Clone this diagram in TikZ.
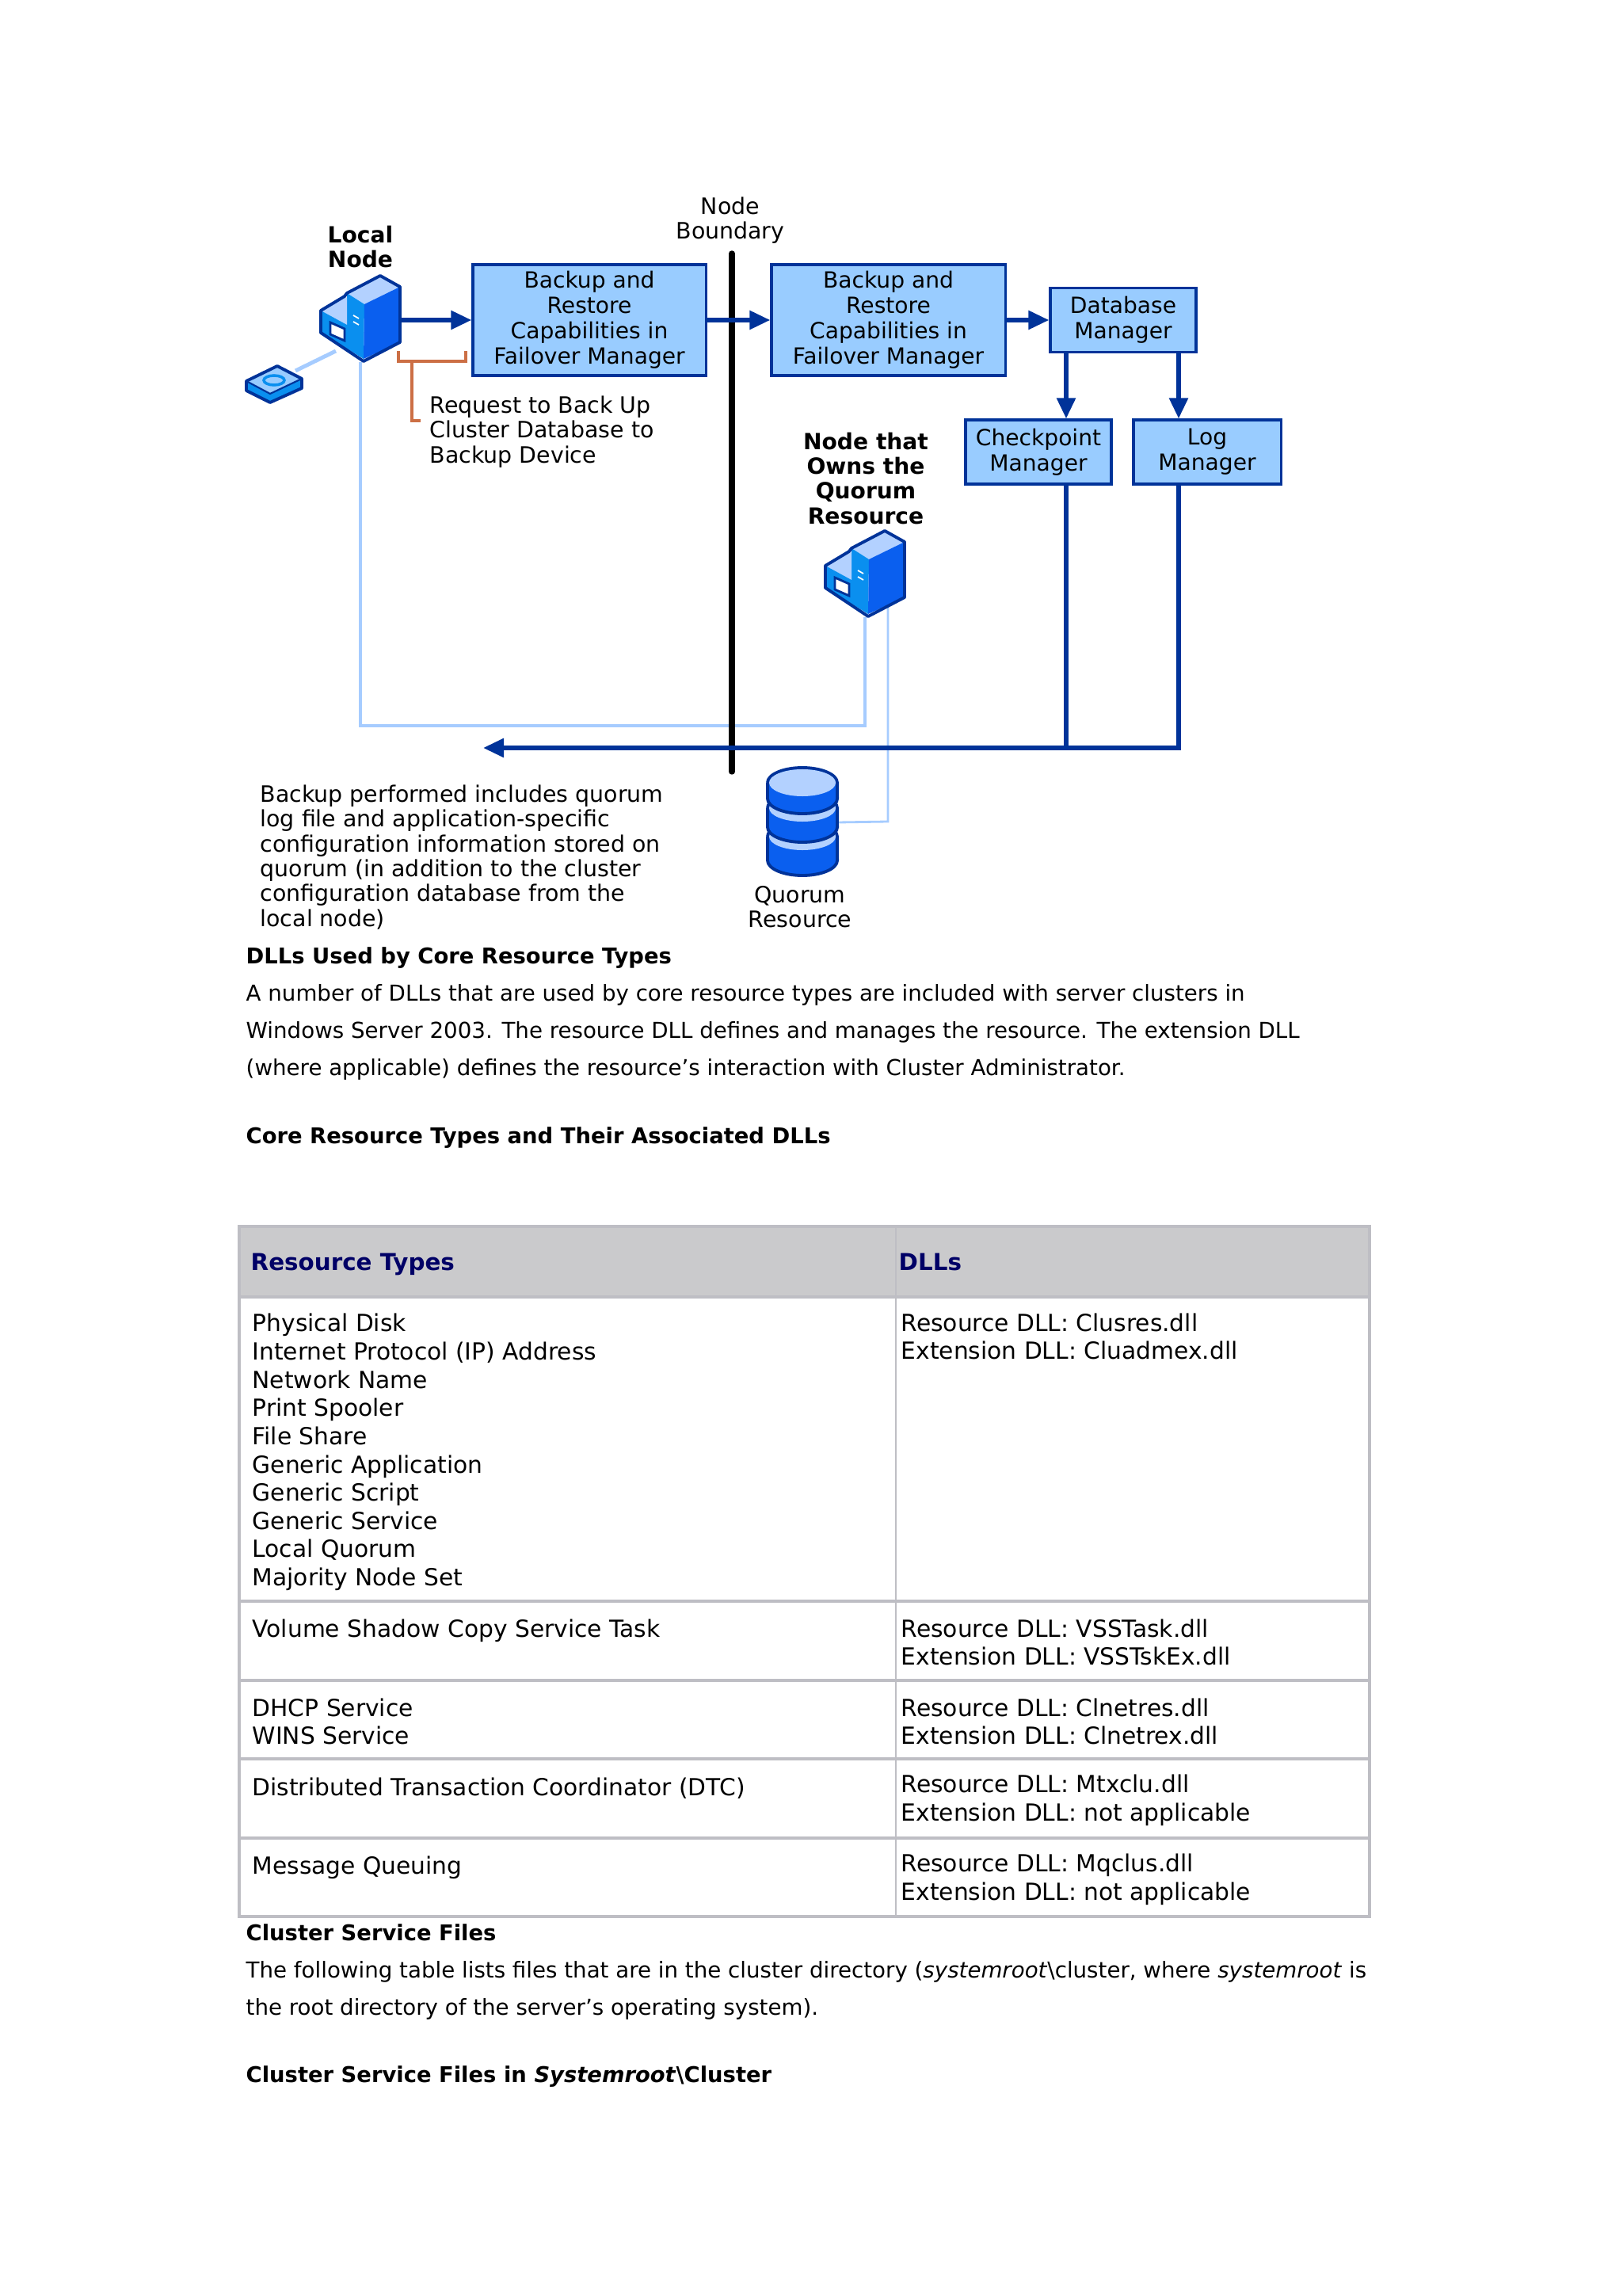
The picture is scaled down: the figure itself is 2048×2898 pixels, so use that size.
\documentclass[tikz,border=0pt]{standalone}
\usepackage{fontspec}
\setmainfont{DejaVu Sans}
\usetikzlibrary{arrows.meta, calc}
\definecolor{linkdark}{HTML}{003399}
\definecolor{linklight}{HTML}{A6CCFF}
\definecolor{boxblue}{HTML}{99CCFF}
\definecolor{facebright}{HTML}{0A5FEF}
\definecolor{facemid}{HTML}{0A8FEF}
\definecolor{facetop}{HTML}{B3D1FF}
\definecolor{bracketorange}{HTML}{CC6F45}
\definecolor{headgrey}{HTML}{CACACC}
\definecolor{rulegrey}{HTML}{BEBEC4}
\definecolor{headnavy}{HTML}{000066}
\tikzset{
  blockbox/.style={draw=linkdark, fill=boxblue, line width=0.9pt, inner sep=0pt, align=center,
    font=\fontsize{8}{9.1}\selectfont},
  sketchlabel/.style={inner sep=0pt, align=center, font=\fontsize{8.08}{8.9}\selectfont},
  sketchnote/.style={sketchlabel, align=left, anchor=west},
  sketchbold/.style={sketchlabel, font=\fontsize{8}{8.82}\selectfont\bfseries},
  bodyline/.style={inner sep=0pt, anchor=base west, font=\fontsize{7.87}{9}\selectfont},
  bodyhead/.style={bodyline, font=\fontsize{7.79}{9}\selectfont\bfseries},
  cellline/.style={inner sep=0pt, anchor=west, align=left, font=\fontsize{8.45}{10.13}\selectfont},
  cellhead/.style={inner sep=0pt, anchor=base west, text=headnavy, font=\fontsize{8.35}{10.13}\selectfont\bfseries},
  blink/.style={draw=linkdark, line width=1.6pt, -{Triangle[length=2.6mm, width=2.3mm]}},
  blinkplain/.style={draw=linkdark, line width=1.6pt},
  llink/.style={draw=linklight, line width=1.4pt},
  serverpic/.pic={
    % tower
    \fill[facetop] (25,-54)--(50,-40)--(5,-18)--(-17,-32)--cycle;
    \fill[facemid] (-17,-32)--(5,-18)--(4,51)--(-17,38)--cycle;
    \fill[facebright] (5,-18)--(50,-40)--(50,30)--(4,51)--cycle;
    % small case
    \fill[facetop] (-50,-10)--(-20,-28)--(-17,-26)--(-17,8)--cycle;
    \fill[facemid] (-50,-10)--(-17,8)--(-17,38)--(-50,18)--cycle;
    \filldraw[fill=white, draw=linkdark, line width=0.8pt] (-38,5)--(-20,13)--(-20,28)--(-38,20)--cycle;
    \draw[white, line width=0.5pt] (-9,-4)--(-2,0) (-9,4)--(-2,8);
    \draw[linkdark, line width=1.1pt, line join=round]
      (25,-54)--(50,-40)--(50,30)--(4,54)--(-50,18)--(-50,-10)--(-20,-28)--(-17,-32)--cycle;
  },
  tapepic/.pic={
    \fill[facemid] (-35,-4)--(-5,12)--(35,-7)--(35,5)--(-5,23)--(-35,8)--cycle;
    \fill[boxblue] (-35,-4)--(4,-23)--(35,-7)--(-5,12)--cycle;
    \draw[facemid, line width=1pt] (0,-5) ellipse [x radius=1.3mm, y radius=0.6mm];
    \draw[linkdark, line width=1.1pt, line join=round]
      (-35,-4)--(4,-23)--(35,-7)--(35,5)--(-5,23)--(-35,8)--cycle;
    \draw[linkdark, line width=0.6pt] (-35,-4)--(-5,12)--(35,-7);
  },
}
\begin{document}
\begin{tikzpicture}[x=0.01cm, y=-0.01cm]
  \useasboundingbox (0,0) rectangle (2048,2898);
  % blocks
  \node[blockbox, minimum width=2.94cm, minimum height=1.40cm] (backupa) at (744,404) {Backup and\\Restore\\Capabilities in\\Failover Manager};
  \node[blockbox, minimum width=2.95cm, minimum height=1.40cm] (backupb) at (1121.5,404) {Backup and\\Restore\\Capabilities in\\Failover Manager};
  \node[blockbox, minimum width=1.84cm, minimum height=0.81cm] (dbbox) at (1418,404) {Database\\Manager};
  \node[blockbox, minimum width=1.84cm, minimum height=0.81cm] (chkbox) at (1311,570.5) {Checkpoint\\Manager};
  \node[blockbox, minimum width=1.86cm, minimum height=0.81cm] (logbox) at (1524,570.5) {Log\\Manager};
  % icons, empty nodes for the links
  \node[minimum width=1cm, minimum height=1.08cm, inner sep=0pt] (localnode) at (455,402) {};
  \node[minimum width=1cm, minimum height=1.08cm, inner sep=0pt] (ownernode) at (1092,724) {};
  \node[minimum width=0.7cm, minimum height=0.46cm, inner sep=0pt] (tapedev) at (346,485) {};
  \node[minimum width=0.88cm, minimum height=1.38cm, inner sep=0pt] (qdisk) at (1013,1038) {};
  % labels
  \node[sketchbold] (locallabel) at (455,312) {Local\\Node};
  \node[sketchlabel] (boundlabel) at (922,278) {Node\\Boundary};
  \node[sketchbold] (ownerlabel) at (1093,604) {Node that\\Owns the\\Quorum\\Resource};
  \node[sketchnote] (requestnote) at (542,545) {Request to Back Up\\Cluster Database to\\Backup Device};
  \node[sketchnote] (backupnote) at (328,1082) {Backup performed includes quorum\\log file and application-specific\\configuration information stored on\\quorum (in addition to the cluster\\configuration database from the\\local node)};
  \node[sketchlabel] (qdisklabel) at (1010,1145) {Quorum\\Resource};
  \coordinate (boundtop) at (924,320);
  \coordinate (boundbot) at (924,974);
  \coordinate (busm) at (1346,944);
  \coordinate (busr) at (1488,944);
  \coordinate (busl) at (610,944);
  \coordinate (backl) at (455,916);
  \coordinate (backr) at (1092,916);
  \coordinate (diskup) at (1121,1037);
  % light links
  \draw[llink] ([xshift=-3.1mm, yshift=-4.1mm]localnode.center)--([xshift=2.7mm, yshift=1.7mm]tapedev.center);
  \draw[llink] (localnode.south)--(backl)--(backr)--(ownernode.south);
  \draw[llink, line width=0.8pt] (qdisk.east)--(diskup)--([yshift=1.6mm]diskup |- ownernode.south);
  % boundary
  \draw[line width=2.1pt, line cap=round] (boundtop)--(boundbot);
  % dark links
  \draw[blink] (localnode.east |- backupa.west)--(backupa.west);
  \draw[blink] (backupa.east)--(backupb.west);
  \draw[blink] (backupb.east)--(dbbox.west);
  \draw[blink] (dbbox.south -| busm)--(chkbox.north -| busm);
  \draw[blink] (dbbox.south -| busr)--(logbox.north -| busr);
  \draw[blinkplain] (chkbox.south -| busm)--(busm);
  \draw[blink] (logbox.south -| busr)--(busr)--(busl);
  % request bracket
  \draw[bracketorange, line width=0.9pt] (503,443)--(503,456)--(588,456)--(588,443) (520,456)--(520,531)--(531,531);
  % icons
  \pic at (localnode.center) {serverpic};
  \pic at (ownernode.center) {serverpic};
  \pic at (tapedev.center) {tapepic};
  % disk stack
  \begin{scope}[shift={(qdisk.center)}]
    \foreach \yt/\yb in {18/48, -18/6, -50/-30}{
      \filldraw[fill=facebright, draw=linkdark, line width=1.1pt]
        (-44,\yt)--(-44,\yb) arc[start angle=180, end angle=360, x radius=4.4mm, y radius=1.9mm]
        --(44,\yt) arc[start angle=0, end angle=180, x radius=4.4mm, y radius=1.9mm];
      \fill[facetop] (-42,\yt) arc[start angle=180, end angle=360, x radius=4.2mm, y radius=1.7mm]
        arc[start angle=0, end angle=180, x radius=4.2mm, y radius=1.7mm];
    }
  \end{scope}
  % page text
  \node[bodyhead] (headdll) at (310,1216) {DLLs Used by Core Resource Types};
  \node[bodyline] (introa) at (310,1263) {A number of DLLs that are used by core resource types are included with server clusters in};
  \node[bodyline] (introb) at (310,1310) {Windows Server 2003. The resource DLL defines and manages the resource. The extension DLL};
  \node[bodyline] (introc) at (310,1357) {(where applicable) defines the resource’s interaction with Cluster Administrator.};
  \node[bodyhead] (headcore) at (310,1443) {Core Resource Types and Their Associated DLLs};
  % table
  \fill[headgrey] (302,1548) rectangle (1729,1637);
  \draw[rulegrey, line width=0.9pt] (302,1548) rectangle (1729,2419);
  \foreach \ry in {1637,2021,2121,2220,2320}{
    \draw[rulegrey, line width=0.9pt] (302,\ry)--(1729,\ry);
  }
  \draw[rulegrey, line width=0.6pt] (1131,1548)--(1131,2419);
  \node[cellhead] (headtypes) at (316,1603) {Resource Types};
  \node[cellhead] (headdlls) at (1134,1603) {DLLs};
  \node[cellline] (typesa) at (318,1833) {Physical Disk\\Internet Protocol (IP) Address\\Network Name\\Print Spooler\\File Share\\Generic Application\\Generic Script\\Generic Service\\Local Quorum\\Majority Node Set};
  \node[cellline] (dllsa) at (1137,1687) {Resource DLL: Clusres.dll\\Extension DLL: Cluadmex.dll};
  \node[cellline] (typesb) at (318,2058) {Volume Shadow Copy Service Task};
  \node[cellline] (dllsb) at (1137,2073) {Resource DLL: VSSTask.dll\\Extension DLL: VSSTskEx.dll};
  \node[cellline] (typesc) at (318,2173) {DHCP Service\\WINS Service};
  \node[cellline] (dllsc) at (1137,2173) {Resource DLL: Clnetres.dll\\Extension DLL: Clnetrex.dll};
  \node[cellline] (typesd) at (318,2257) {Distributed Transaction Coordinator (DTC)};
  \node[cellline] (dllsd) at (1137,2272) {Resource DLL: Mtxclu.dll\\Extension DLL: not applicable};
  \node[cellline] (typese) at (318,2357) {Message Queuing};
  \node[cellline] (dllse) at (1137,2372) {Resource DLL: Mqclus.dll\\Extension DLL: not applicable};
  % closing text
  \node[bodyhead] (headfiles) at (310,2449) {Cluster Service Files};
  \node[bodyline] (filesa) at (310,2496) {The following table lists files that are in the cluster directory (\textit{systemroot}\textbackslash cluster, where \textit{systemroot} is};
  \node[bodyline] (filesb) at (310,2543) {the root directory of the server’s operating system).};
  \node[bodyhead] (headdir) at (310,2628) {Cluster Service Files in \textit{Systemroot}\textbackslash Cluster};
\end{tikzpicture}
\end{document}
